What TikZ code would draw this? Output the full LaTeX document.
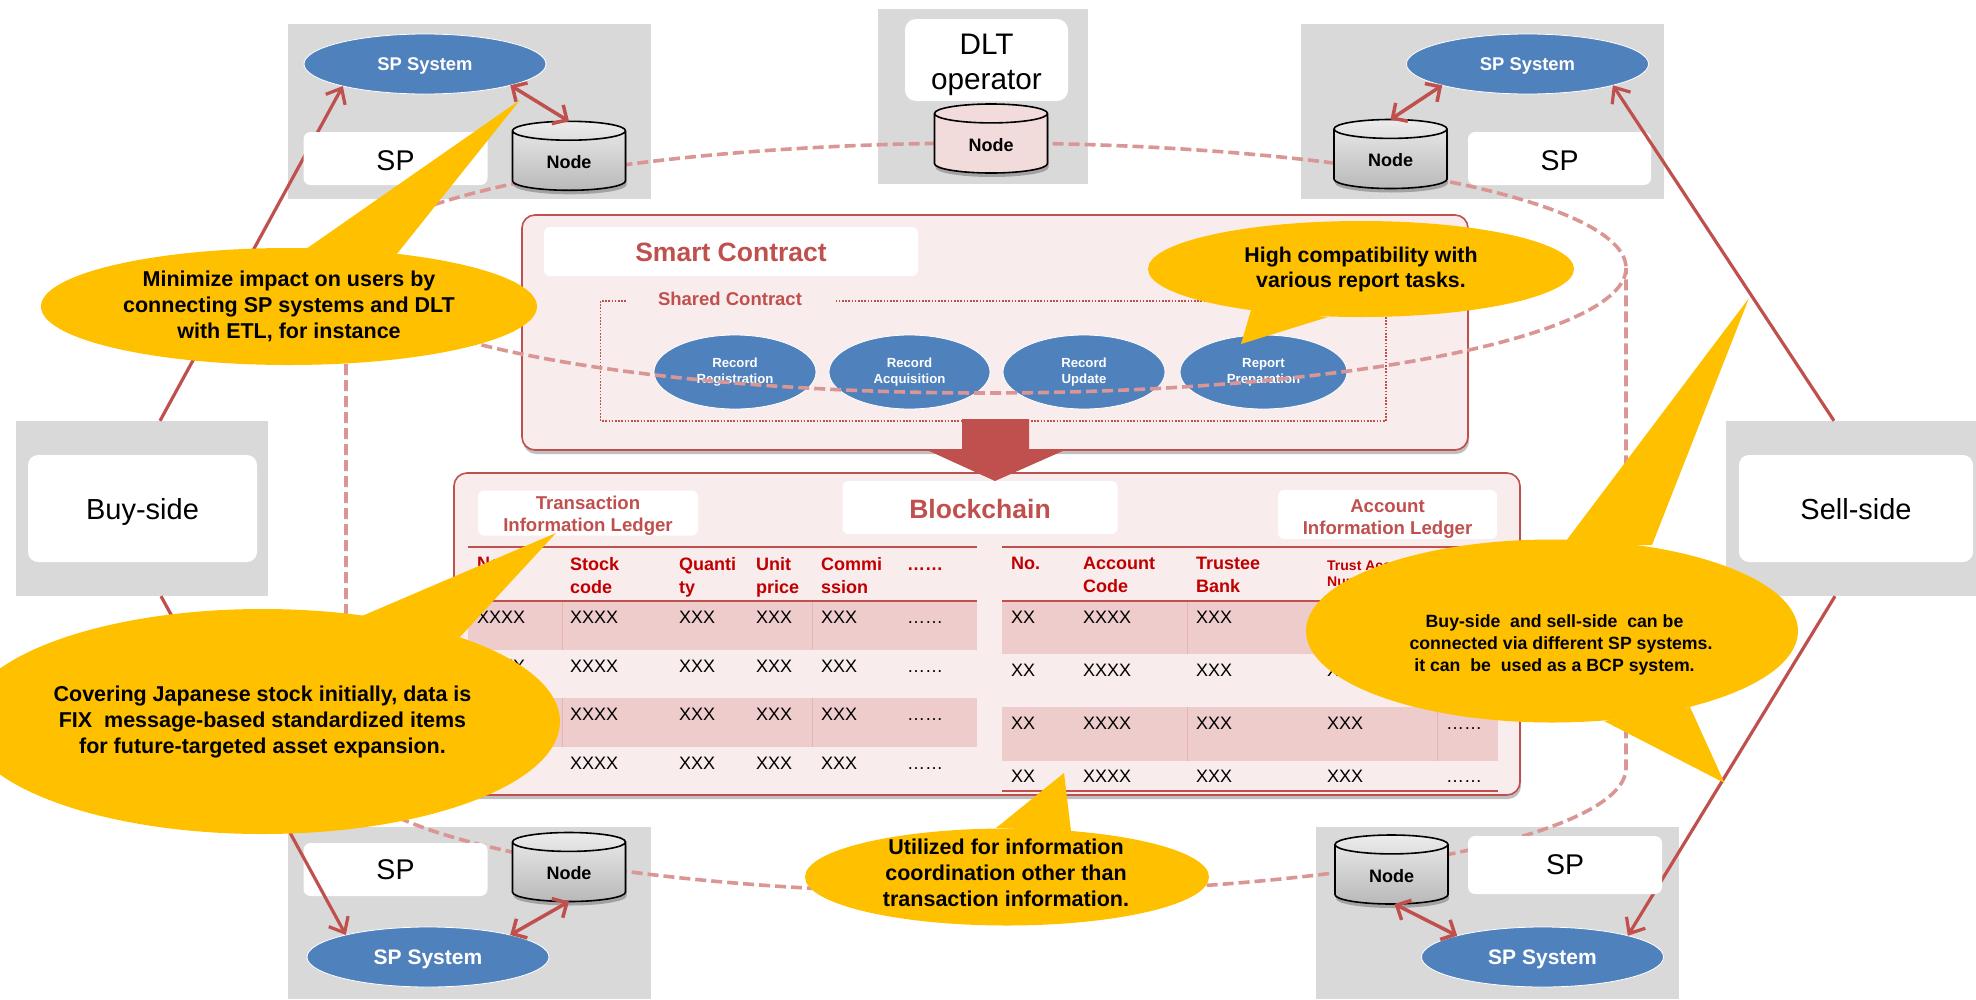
\documentclass[tikz,border=0pt]{standalone}
\usepackage{fontspec}
\setmainfont{Liberation Sans}
\usetikzlibrary{positioning, shapes.geometric, arrows.meta, shadows}

\definecolor{spgrey}{HTML}{D9D9D9}
\definecolor{spblue}{HTML}{4F81BD}
\definecolor{spred}{HTML}{C0504D}
\definecolor{headred}{HTML}{C00000}
\definecolor{ringred}{HTML}{D99694}
\definecolor{panelfill}{HTML}{F9ECEC}
\definecolor{rowfill}{HTML}{EDCCCB}
\definecolor{bubblefill}{HTML}{FFC000}
\definecolor{dltfill}{HTML}{F2DCDB}

\newcommand{\fsize}[2]{\fontsize{#1}{#2}\selectfont}
\newcommand{\dotrun}{……}
\newcommand{\headdots}{\vphantom{k}……}

\tikzset{
    softshadow/.style={drop shadow={shadow xshift=1pt,shadow yshift=-4pt,opacity=0.25,fill=black}},
    greybox/.style={fill=spgrey,inner sep=0},
    whitebox/.style={fill=white,rounded corners=7pt,inner sep=0,align=center,font=\fsize{28.5}{35}},
    spsystem/.style={ellipse,fill=spblue,draw=white,line width=0.8pt,inner sep=0,outer sep=0,text depth=0pt,
        minimum width=242,minimum height=60,text=white,font=\bfseries\fsize{18.4}{22}},
    contractfn/.style={ellipse,fill=spblue,draw=white,line width=0.8pt,inner sep=0,outer sep=0,
        minimum height=74,align=center,text=white,font=\bfseries\fsize{13.2}{16}},
    dbnode/.style={cylinder,anchor=shape center,shape border rotate=90,aspect=0.42,draw=black,line width=1.6pt,
        inner sep=0,outer sep=0,minimum width=113,minimum height=69,softshadow,text height=15pt,
        top color=gray!15,bottom color=gray!55,font=\bfseries\fsize{18}{22}},
    panel/.style={draw=spred,line width=1.6pt,fill=panelfill,rounded corners=13pt,softshadow},
    sublabel/.style={fill=white,rounded corners=6pt,inner sep=0,align=center,text=spred,font=\bfseries},
    ringline/.style={draw=ringred,line width=3.6pt,dash pattern=on 11pt off 5pt},
    longarrow/.style={draw=spred,line width=3.2pt,-{Straight Barb[length=13pt,width=22pt,line width=3.2pt]}},
    shortarrow/.style={draw=spred,line width=3.5pt,{Straight Barb[length=11pt,width=22pt,line width=3.5pt]}-{Straight Barb[length=11pt,width=22pt,line width=3.5pt]}},
    tablerule/.style={draw=spred,line width=2.6pt},
    rowrule/.style={draw=ringred!70,line width=0.6pt},
    headcell/.style={anchor=north west,inner sep=0,align=left,text=headred,font=\bfseries\fsize{18}{23}},
    bodycell/.style={anchor=base west,inner sep=0,font=\fsize{18}{22}},
    bubble/.style={ellipse,fill=bubblefill,inner sep=0,outer sep=0,align=center,font=\bfseries},
    bubbletext/.style={align=center,inner sep=0,font=\bfseries},
}

\begin{document}
\begin{tikzpicture}[x=1pt,y=-1pt]
    \clip (0,0) rectangle (1976,999);

    % grey boxes
    \node[greybox,minimum width=252,minimum height=175] (buyside) at (142,508.5) {};
    \node[greybox,minimum width=250,minimum height=175] (sellside) at (1851,508.5) {};
    \node[greybox,minimum width=363,minimum height=175] (groupTL) at (469.5,111.5) {};
    \node[greybox,minimum width=363,minimum height=175] (groupTR) at (1482.5,111.5) {};
    \node[greybox,minimum width=210,minimum height=175] (groupDLT) at (983,96.5) {};
    \node[greybox,minimum width=363,minimum height=172] (groupBL) at (469.5,913) {};
    \node[greybox,minimum width=363,minimum height=172] (groupBR) at (1497.5,913) {};

    % smart contract
    \draw[panel] (522,215) rectangle (1468,450);
    \node[sublabel,minimum width=374,minimum height=49,text height=21pt,font=\bfseries\fsize{26.5}{30}] (smartlabel) at (731,251.5) {Smart Contract};
    \draw[spred,line width=1.2pt,dash pattern=on 1.6pt off 1.6pt] (600.5,301) rectangle (1386,421);
    \node[fill=panelfill,inner sep=0,minimum width=208,minimum height=24,text=spred,font=\bfseries\fsize{18.5}{22}] (sharedlabel) at (730,299) {Shared Contract};
    \node[contractfn,minimum width=162] (fnreg) at (735,372) {Record\\Registration};
    \node[contractfn,minimum width=161] (fnacq) at (909.5,372) {Record\\Acquisition};
    \node[contractfn,minimum width=162] (fnupd) at (1084,372) {Record\\Update};
    \node[contractfn,minimum width=167] (fnrep) at (1263.5,372) {Report\\Preparation};

    % blockchain panel
    \draw[panel] (454,473) rectangle (1520,795);
    \fill[spred] (962,419) -- (1029,419) -- (1029,450) -- (1065,450) -- (995,481) -- (927,450) -- (962,450) -- cycle;
    \node[sublabel,minimum width=275,minimum height=53,text height=23pt,font=\bfseries\fsize{26.5}{30}] (chainlabel) at (980,507.5) {Blockchain};
    \node[sublabel,minimum width=220,minimum height=45,font=\bfseries\fsize{18.6}{21.5}] (txlabel) at (588,513) {\rule{0pt}{19pt}Transaction\\Information Ledger};
    \node[sublabel,minimum width=219,minimum height=49,font=\bfseries\fsize{18.6}{22.5}] (acctlabel) at (1387.5,514.5) {\rule{0pt}{21.5pt}Account\\Information Ledger};

    % transaction table
    \fill[rowfill] (468,601) rectangle (977,650);
    \fill[rowfill] (468,698) rectangle (977,747);
    \draw[rowrule] (562,601) -- (562,650) (812.5,601) -- (812.5,650);
    \draw[rowrule] (562,698) -- (562,747) (812.5,698) -- (812.5,747);
    \draw[tablerule] (468,547) -- (977,547);
    \draw[tablerule] (468,601) -- (977,601);
    \draw[tablerule] (468,795) -- (977,795);
    \foreach \colx/\head in {477/No.,570/Stock\\code,679/Quanti\\ty,756/Unit\\price,821/Commi\\ssion,907/\headdots}
        \node[headcell] (txhead\colx) at (\colx,557) {\head};
    \foreach \rowy in {623,672}
        \node[bodycell] (txcell477\rowy) at (477,\rowy) {XXXX};
    \foreach \rowy in {623,672,720,769}
        \foreach \colx/\cell in {570/XXXX,679/XXX,756/XXX,821/XXX,907/\dotrun}
            \node[bodycell] (txcell\colx\rowy) at (\colx,\rowy) {\cell};

    % account table
    \fill[rowfill] (1002,601) rectangle (1498,654);
    \fill[rowfill] (1002,707) rectangle (1498,761);
    \draw[rowrule] (1187.5,601) -- (1187.5,654) (1437.5,601) -- (1437.5,654);
    \draw[rowrule] (1187.5,707) -- (1187.5,761) (1437.5,707) -- (1437.5,761);
    \draw[tablerule] (1002,547) -- (1498,547);
    \draw[tablerule] (1002,601) -- (1498,601);
    \draw[tablerule] (1002,791) -- (1498,791);
    \foreach \colx/\head in {1011/No.,1083/Account\\Code,1196/Trustee\\Bank}
        \node[headcell] (achead\colx) at (\colx,557) {\head};
    \node[headcell,font=\bfseries\fsize{14}{16}] (achead1327) at (1327,561) {Trust Account\\Number};
    \foreach \rowy in {623,676,729,782}
        \foreach \colx/\cell in {1011/XX,1083/XXXX,1196/XXX}
            \node[bodycell] (accell\colx\rowy) at (\colx,\rowy) {\cell};
    \foreach \rowy in {676,729,782}
        \node[bodycell] (accell1327\rowy) at (1327,\rowy) {XXX};
    \foreach \rowy in {729,782}
        \node[bodycell] (accell1446\rowy) at (1446,\rowy) {\dotrun};

    % system ellipses and two side connectors under the labels
    \node[spsystem] (sysTL) at (425,64) {SP System};
    \node[spsystem] (sysTR) at (1527.5,64) {SP System};
    \node[spsystem,font=\bfseries\fsize{21}{22}] (sysBL) at (428,957) {SP System};
    \node[spsystem,font=\bfseries\fsize{21}{22}] (sysBR) at (1542.5,957) {SP System};
    \draw[longarrow] ([xshift=18pt]buyside.north) -- (sysTL.195);
    \draw[longarrow] ([xshift=-16pt]sellside.south) -- (sysBR.14);

    % dashed ring
    \draw[ringline] (986,268) ellipse [x radius=640,y radius=125];
    \draw[ringline] (346,268) -- (346,768) arc [start angle=180,end angle=0,x radius=640,y radius=125] -- (1626,268);

    % labels and ledger nodes
    \node[whitebox,minimum width=229,minimum height=107,rounded corners=10pt,text depth=0pt,font=\fsize{29}{35}] (buylabel) at (142.5,508.5) {Buy-side};
    \node[whitebox,minimum width=234,minimum height=107,rounded corners=10pt,text depth=0pt,font=\fsize{29}{35}] (selllabel) at (1856,508.5) {Sell-side};
    \node[whitebox,minimum width=184,minimum height=53,text height=23.4pt] (spTL) at (395.5,158.5) {SP};
    \node[whitebox,minimum width=183,minimum height=53,text height=23.4pt] (spTR) at (1559.5,158.5) {SP};
    \node[whitebox,minimum width=184,minimum height=53] (spBL) at (395.5,869.5) {SP};
    \node[whitebox,minimum width=194,minimum height=58] (spBR) at (1565,865) {SP};
    \node[whitebox,minimum width=163,minimum height=82,rounded corners=11pt,font=\fsize{29.7}{35}] (dltlabel) at (986.5,60) {\rule{0pt}{31pt}DLT\\operator};
    \node[dbnode] (dbTL) at (569,155.8) {Node};
    \node[dbnode] (dbTR) at (1390.5,154) {Node};
    \node[dbnode] (dbBL) at (569,867) {Node};
    \node[dbnode] (dbBR) at (1391.5,869.5) {Node};
    \node[dbnode,top color=dltfill,bottom color=dltfill] (dbDLT) at (991,138.5) {Node};

    % connectors
    \draw[longarrow] ([xshift=-17pt]sellside.north) -- (sysTR.-14);
    \draw[longarrow] ([xshift=19pt]buyside.south) -- (sysBL.165);
    \draw[shortarrow] (dbTL.north) -- (sysTL.-14);
    \draw[shortarrow] (dbTR.north) -- (sysTR.194);
    \draw[shortarrow] (dbBL.south) -- (sysBL.15);
    \draw[shortarrow] ([xshift=3pt]dbBR.south) -- (sysBR.166);

    % callouts
    \fill[bubblefill] (306,249) -- (520,100) -- (396,255) -- cycle;
    \node[bubble,minimum width=496,minimum height=117,font=\bfseries\fsize{21.5}{25.8}] (noteminimize) at (289,306.5) {Minimize impact on users by\\connecting SP systems and DLT\\with ETL, for instance};
    \fill[bubblefill] (1251,310) -- (1241,344) -- (1328,317) -- cycle;
    \node[bubble,minimum width=426,minimum height=96,font=\bfseries\fsize{21.3}{25}] (notereport) at (1361,269) {High compatibility with\\various report tasks.};
    \fill[bubblefill] (362,616) -- (556,533) -- (460,637) -- cycle;
    \node[bubble,minimum width=595,minimum height=225,font=\bfseries\fsize{21.5}{26}] (notestock) at (262.5,721.5) {Covering Japanese stock initially, data is\\FIX\ \ message-based standardized items\\for future-targeted asset expansion.};
    \fill[bubblefill] (996,828) -- (1064,773) -- (1071,831) -- cycle;
    \node[bubble,minimum width=404,minimum height=97] (noteinfo) at (1007,877) {};
    \node[bubbletext,font=\bfseries\fsize{21.5}{25.7}] (noteinfotext) at (1006,873) {Utilized for information\\coordination other than\\transaction information.};
    \fill[bubblefill] (1563,545) -- (1749,298) -- (1652,545) -- cycle;
    \fill[bubblefill] (1604,721) -- (1724.5,783) -- (1690,707) -- cycle;
    \node[bubble,minimum width=492,minimum height=183] (notebcp) at (1552,631) {};
    \node[bubbletext,font=\bfseries\fsize{17.7}{22}] (notebcptext) at (1561,644.5) {Buy-side\ \ and sell-side\ \ can be\hspace*{13pt}\\connected via different SP systems.\\it can\ \ be\ \ used as a BCP system.\hspace*{13pt}};
\end{tikzpicture}
\end{document}
